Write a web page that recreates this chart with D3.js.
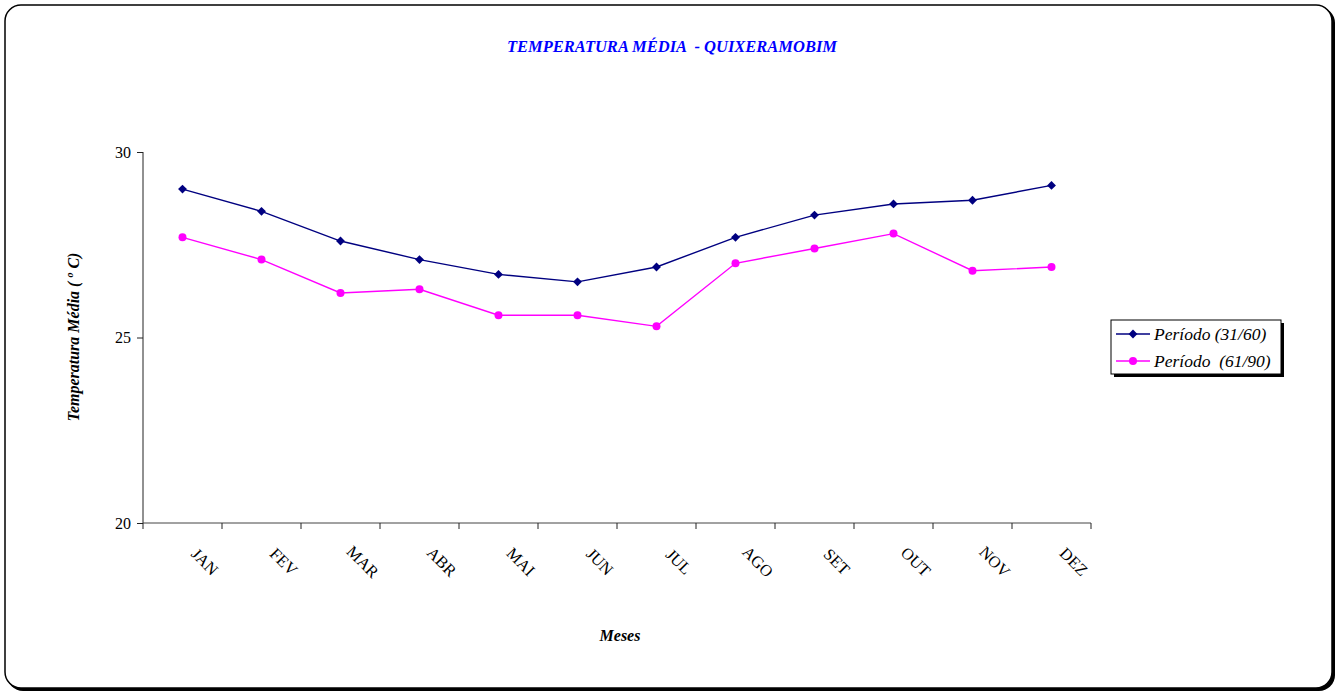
<!DOCTYPE html>
<html><head><meta charset="utf-8">
<script src="https://cdn.jsdelivr.net/npm/d3@7"></script>
<style>body{margin:0;background:#fff}svg{display:block}text{white-space:pre}</style>
</head><body>
<script>
const months = ["JAN","FEV","MAR","ABR","MAI","JUN","JUL","AGO","SET","OUT","NOV","DEZ"];
const serie1 = [29.0,28.4,27.6,27.1,26.7,26.5,26.9,27.7,28.3,28.6,28.7,29.1];
const serie2 = [27.7,27.1,26.2,26.3,25.6,25.6,25.3,27.0,27.4,27.8,26.8,26.9];
const yTicks = [20,25,30];
const seriesNames = ["Período (31/60)","Período  (61/90)"];
const seriesColors = ["#000080","#FF00FF"];
const W=1337,H=693;
const font="'Liberation Serif','Times New Roman',serif";
const svg=d3.select("body").append("svg").attr("width",W).attr("height",H);
// frame with shadow
svg.append("rect").attr("x",7).attr("y",7).attr("width",1328).attr("height",684).attr("rx",16).attr("fill","#000");
svg.append("rect").attr("x",5).attr("y",5).attr("width",1327).attr("height",683).attr("rx",16).attr("fill","#fff").attr("stroke","#000").attr("stroke-width",1.5);

const x=d3.scaleBand().domain(months).range([143,1091]);
const y=d3.scaleLinear().domain([20,30]).range([523,152]);

svg.append("text").attr("x",672).attr("y",52).attr("text-anchor","middle")
 .attr("font-family",font).attr("font-size",16.5).attr("font-weight","bold").attr("font-style","italic")
 .attr("fill","#0000FF").text("TEMPERATURA MÉDIA  - QUIXERAMOBIM");

// y axis
const ya=svg.append("g").attr("transform","translate(143,0)").call(d3.axisLeft(y).tickValues(yTicks).tickSize(6).tickPadding(6));
ya.selectAll("text").attr("font-family",font).attr("font-size",16).attr("fill","#000");
ya.selectAll("path,line").attr("stroke","#222");
ya.select(".domain").attr("d","M0,152V523");
// x axis
const xa=svg.append("g").attr("transform","translate(0,523)").call(d3.axisBottom(x).tickSize(0).tickFormat(""));
xa.select(".domain").attr("d","M143,0H1091").attr("stroke","#444");
xa.selectAll(".tick").remove();
const bounds=months.map(m=>x(m)).concat([x(months[11])+x.bandwidth()]);
xa.selectAll("line.b").data(bounds).join("line").attr("class","b")
 .attr("x1",d=>d).attr("x2",d=>d).attr("y1",0).attr("y2",6).attr("stroke","#222");
svg.append("g").selectAll("text").data(months).join("text")
 .attr("transform",d=>`translate(${x(d)+x.bandwidth()/2+21},${563}) rotate(45)`)
 .attr("text-anchor","middle").attr("dominant-baseline","middle")
 .attr("font-family",font).attr("font-size",16.5).attr("fill","#000").text(d=>d);

const yl=svg.append("text").attr("transform","translate(79,337) rotate(-90)").attr("text-anchor","middle")
 .attr("font-family",font).attr("font-size",16).attr("font-weight","bold").attr("font-style","italic");
yl.append("tspan").text("Temperatura Média ( ");
yl.append("tspan").attr("font-size",10).attr("dy",-6).text("o");
yl.append("tspan").attr("dy",6).text(" C)");
svg.append("text").attr("x",620).attr("y",641).attr("text-anchor","middle")
 .attr("font-family",font).attr("font-size",16).attr("font-weight","bold").attr("font-style","italic").text("Meses");

const line=d3.line().x((d,i)=>x(months[i])+x.bandwidth()/2).y(d=>y(d));
const diamond=d3.symbol().type(d3.symbolDiamond2).size(50);
const data=[serie1,serie2];
data.forEach((s,k)=>{
  svg.append("path").attr("d",line(s)).attr("fill","none").attr("stroke",seriesColors[k]).attr("stroke-width",1.4);
  const g=svg.append("g");
  if(k===0){
    g.selectAll("path").data(s).join("path").attr("d",diamond)
     .attr("transform",(d,i)=>`translate(${x(months[i])+x.bandwidth()/2},${y(d)})`).attr("fill",seriesColors[k]);
  } else {
    g.selectAll("circle").data(s).join("circle").attr("cx",(d,i)=>x(months[i])+x.bandwidth()/2).attr("cy",d=>y(d)).attr("r",4).attr("fill",seriesColors[k]);
  }
});

// legend
const lg=svg.append("g");
lg.append("rect").attr("x",1114).attr("y",323).attr("width",170).attr("height",54).attr("fill","#000");
lg.append("rect").attr("x",1111).attr("y",320).attr("width",170).attr("height",54).attr("fill","#fff").attr("stroke","#000").attr("stroke-width",1);
seriesNames.forEach((n,k)=>{
  const yy=334+k*27;
  lg.append("line").attr("x1",1116).attr("x2",1150).attr("y1",yy).attr("y2",yy).attr("stroke",seriesColors[k]).attr("stroke-width",1.4);
  if(k===0) lg.append("path").attr("d",diamond).attr("transform",`translate(1133,${yy})`).attr("fill",seriesColors[k]);
  else lg.append("circle").attr("cx",1133).attr("cy",yy).attr("r",4).attr("fill",seriesColors[k]);
  lg.append("text").attr("x",1154).attr("y",yy+5.5).attr("font-family",font).attr("font-size",17.5).attr("font-style","italic").text(n);
});
</script>
</body></html>
